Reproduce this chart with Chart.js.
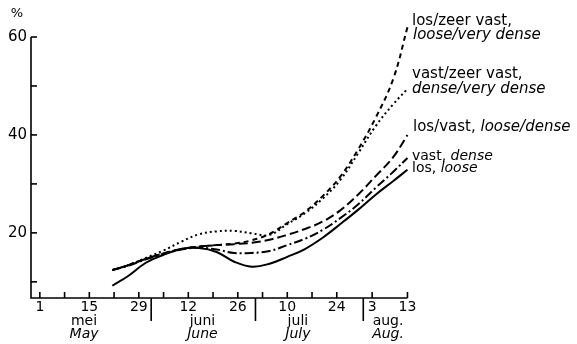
<!DOCTYPE html>
<html>
<head>
<meta charset="utf-8">
<script src="https://cdn.jsdelivr.net/npm/chart.js@4/dist/chart.umd.min.js"></script>
<style>
  body { margin: 0; background: #fff; }
</style>
</head>
<body>
<canvas id="soilChart" width="577" height="344"></canvas>
<script>
// days counted from 1 May
const days = [20.5, 25, 30, 35, 40, 45, 50, 55, 60, 65, 70, 75, 80, 85, 90, 95, 100, 104];

// percent values
const losZeerVast  = [12.4, 13.4, 14.7, 15.8, 16.7, 17.2, 17.5, 17.8, 18.5, 19.8, 22.0, 24.3, 27.5, 31.5, 37.0, 43.5, 51.5, 62.0];
const vastZeerVast = [12.4, 13.4, 14.9, 16.4, 18.2, 19.7, 20.3, 20.4, 19.9, 19.6, 21.8, 24.0, 27.0, 30.8, 36.2, 41.8, 46.3, 49.4];
const losVast      = [12.4, 13.4, 14.7, 15.8, 16.7, 17.2, 17.5, 17.7, 18.0, 18.6, 19.6, 20.8, 22.3, 24.6, 27.8, 31.6, 35.5, 40.0];
const vastDense    = [12.4, 13.3, 14.6, 15.7, 16.6, 17.0, 16.6, 15.9, 15.9, 16.3, 17.5, 18.8, 20.6, 23.0, 25.8, 29.2, 32.5, 35.3];
const losLoose     = [9.2, 11.2, 13.9, 15.5, 16.7, 16.9, 16.1, 14.1, 13.1, 13.7, 15.1, 16.7, 19.0, 21.8, 24.7, 27.8, 30.6, 32.9];

// x axis
const tickDays = [0, 7, 14, 21, 28, 35, 42, 49, 56, 63, 70, 77, 84, 94, 104];
const labelDays = [0, 14, 28, 42, 56, 70, 84, 94, 104];
const dayLabels = ['1', '15', '29', '12', '26', '10', '24', '3', '13'];
const monthStarts = [31.5, 61, 91.5];
const monthDays = [12.5, 46, 73, 98.5];
const monthNl = ['mei', 'juni', 'juli', 'aug.'];
const monthEn = ['May', 'June', 'July', 'Aug.'];

// y axis
const yTicks = [10, 20, 30, 40, 50, 60];
const yLabels = [20, 40, 60];

function pts(vals) {
    return days.map((d, i) => ({ x: d, y: vals[i] }));
}

const FONT = '"DejaVu Sans", sans-serif';

const axesPlugin = {
    id: 'axesPlugin',
    afterDraw(chart) {
        const ctx = chart.ctx;
        const xs = chart.scales.x, ys = chart.scales.y;
        const x0 = xs.getPixelForValue(-2.5);
        const yb = ys.getPixelForValue(ys.min);
        const yt = ys.getPixelForValue(60);
        ctx.save();
        ctx.strokeStyle = '#000';
        ctx.fillStyle = '#000';
        ctx.lineWidth = 1.6;
        // axis lines
        ctx.beginPath();
        ctx.moveTo(x0, yt);
        ctx.lineTo(x0, yb);
        ctx.lineTo(xs.getPixelForValue(104), yb);
        ctx.stroke();
        // y ticks, inward
        yTicks.forEach(v => {
            const y = ys.getPixelForValue(v);
            ctx.beginPath();
            ctx.moveTo(x0, y);
            ctx.lineTo(x0 + 6, y);
            ctx.stroke();
        });
        ctx.font = '15px ' + FONT;
        ctx.textAlign = 'right';
        ctx.textBaseline = 'middle';
        yLabels.forEach(v => ctx.fillText(String(v), x0 - 4, ys.getPixelForValue(v)));
        ctx.textAlign = 'center';
        ctx.font = '13px ' + FONT;
        ctx.fillText('%', 17, 14);
        // x ticks, upward
        tickDays.forEach(d => {
            const x = xs.getPixelForValue(d);
            ctx.beginPath();
            ctx.moveTo(x, yb);
            ctx.lineTo(x, yb - 6);
            ctx.stroke();
        });
        monthStarts.forEach(d => {
            const x = xs.getPixelForValue(d);
            ctx.beginPath();
            ctx.moveTo(x, yb);
            ctx.lineTo(x, yb + 23);
            ctx.stroke();
        });
        ctx.font = '14px ' + FONT;
        ctx.textBaseline = 'top';
        labelDays.forEach((d, i) => ctx.fillText(dayLabels[i], xs.getPixelForValue(d), yb + 2));
        monthDays.forEach((d, i) => {
            const x = xs.getPixelForValue(d);
            ctx.font = '14px ' + FONT;
            ctx.fillText(monthNl[i], x, yb + 16);
            ctx.font = 'italic 14px ' + FONT;
            ctx.fillText(monthEn[i], x, yb + 29);
        });
        // series labels
        ctx.textAlign = 'left';
        ctx.textBaseline = 'alphabetic';
        const parts = [
            [412, 25, 15, [['los/zeer vast,', '']]],
            [413, 39, 15, [['loose/very dense', 'italic ']]],
            [412, 78, 15, [['vast/zeer vast,', '']]],
            [412, 93, 15, [['dense/very dense', 'italic ']]],
            [413, 131, 15, [['los/vast, ', ''], ['loose/dense', 'italic ']]],
            [412, 160, 14, [['vast, ', ''], ['dense', 'italic ']]],
            [412, 172, 14, [['los, ', ''], ['loose', 'italic ']]]
        ];
        parts.forEach(([x, y, size, segs]) => {
            let cx = x;
            segs.forEach(([t, st]) => {
                ctx.font = st + size + 'px ' + FONT;
                ctx.fillText(t, cx, y);
                cx += ctx.measureText(t).width;
            });
        });
        ctx.restore();
    }
};

const base = { borderColor: '#000', borderWidth: 2, pointRadius: 0, tension: 0.4, fill: false, clip: false };

new Chart(document.getElementById('soilChart').getContext('2d'), {
    type: 'line',
    data: {
        datasets: [
            Object.assign({ label: 'los/zeer vast', data: pts(losZeerVast), borderDash: [5, 4] }, base),
            Object.assign({ label: 'vast/zeer vast', data: pts(vastZeerVast), borderDash: [2, 3] }, base),
            Object.assign({ label: 'los/vast', data: pts(losVast), borderDash: [9, 4] }, base),
            Object.assign({ label: 'vast', data: pts(vastDense), borderDash: [9, 3, 2, 3] }, base),
            Object.assign({ label: 'los', data: pts(losLoose) }, base)
        ]
    },
    options: {
        responsive: false,
        animation: false,
        layout: { padding: { left: 31, right: 166, top: 37, bottom: 46 } },
        plugins: { legend: { display: false }, tooltip: { enabled: false } },
        scales: {
            x: { type: 'linear', display: false, min: -2.5, max: 105 },
            y: { type: 'linear', display: false, min: 6.7, max: 60 }
        }
    },
    plugins: [axesPlugin]
});
</script>
</body>
</html>
